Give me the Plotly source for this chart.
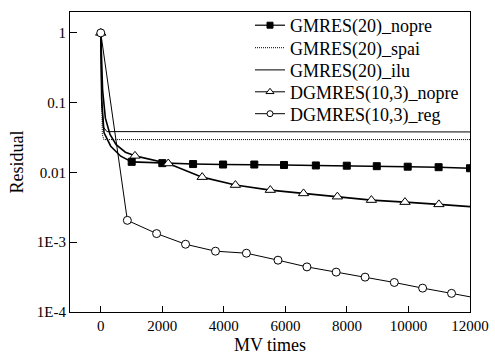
import plotly.graph_objects as go

# ---- data ----
# GMRES(20)_nopre
nopre_curve_x = [0, 30, 107, 324, 648, 1005]
nopre_curve_y = [1, 0.11, 0.037, 0.0238, 0.0171, 0.0142]
nopre_mark_x = [1005, 2000, 3000, 3975, 4990, 5955, 6990, 7995, 8970, 9975, 10980, 12000]
nopre_mark_y = [0.0142, 0.0136, 0.0132, 0.0130, 0.0130, 0.0128, 0.0126, 0.0125, 0.0123, 0.0121, 0.0119, 0.0115]

# GMRES(20)_spai
spai_x = [0, 20, 50, 100, 12000]
spai_y = [1, 0.08, 0.035, 0.0296, 0.0296]

# GMRES(20)_ilu
ilu_x = [0, 30, 80, 200, 12000]
ilu_y = [1, 0.1, 0.045, 0.0385, 0.0381]

# DGMRES(10,3)_nopre
dnopre_curve_x = [0, 60, 150, 300, 500, 800, 1112]
dnopre_curve_y = [1, 0.15, 0.06, 0.035, 0.025, 0.0195, 0.0173]
dnopre_mark_x = [1112, 2194, 3296, 4376, 5510, 6590, 7690, 8795, 9887, 10989]
dnopre_mark_y = [0.0173, 0.01345, 0.00857, 0.0066, 0.00559, 0.00501, 0.0045, 0.00402, 0.00376, 0.00349]
dnopre_end_x = [10989, 12000]
dnopre_end_y = [0.00349, 0.00324]
dnopre_start_x = [0]
dnopre_start_y = [1]

# DGMRES(10,3)_reg
reg_mark_x = [0, 864, 1815, 2755, 3728, 4733, 5760, 6700, 7650, 8590, 9540, 10460, 11400]
reg_mark_y = [1, 0.00206, 0.00133, 0.000936, 0.000744, 0.000696, 0.000553, 0.000443,
              0.000373, 0.000316, 0.000265, 0.000220, 0.000185]
reg_end_x = [11400, 12000]
reg_end_y = [0.000185, 0.000165]

x_ticks = [0, 2000, 4000, 6000, 8000, 10000, 12000]
x_ticktext = ["0", "2000", "4000", "6000", "8000", "10000", "12000"]
y_tickvals = [1, 0.1, 0.01, 0.001, 0.0001]
y_ticktext = ["1", "0.1", "0.01", "1E-3", "1E-4"]

names = ["GMRES(20)_nopre", "GMRES(20)_spai", "GMRES(20)_ilu",
         "DGMRES(10,3)_nopre", "DGMRES(10,3)_reg"]

FONT = "Liberation Serif"
BLK = "black"
DOT = "1px,1px"

fig = go.Figure()

def line(x, y, width=1, dash="solid"):
    fig.add_trace(go.Scatter(x=x, y=y, mode="lines", showlegend=False,
                             line=dict(color=BLK, width=width, dash=dash),
                             hoverinfo="skip"))

def marks(x, y, symbol, size, fill):
    fig.add_trace(go.Scatter(x=x, y=y, mode="markers", showlegend=False,
                             marker=dict(symbol=symbol, size=size, color=fill,
                                         line=dict(color=BLK, width=1)),
                             hoverinfo="skip"))

def legend_item(name, legend_id, width=1, dash="solid", symbol=None, size=6, fill=BLK):
    mode = "lines+markers" if symbol else "lines"
    kw = {}
    if symbol:
        kw["marker"] = dict(symbol=symbol, size=size, color=fill, line=dict(color=BLK, width=1))
    fig.add_trace(go.Scatter(x=[None], y=[None], mode=mode, name=name, legend=legend_id,
                             line=dict(color=BLK, width=width, dash=dash), **kw))

# lines
line(spai_x, spai_y, 1, DOT)
line(ilu_x, ilu_y, 1)
line(reg_mark_x, reg_mark_y, 1)
line(reg_end_x, reg_end_y, 1)
line(dnopre_curve_x, dnopre_curve_y, 1.6)
line(dnopre_mark_x, dnopre_mark_y, 1.6)
line(dnopre_end_x, dnopre_end_y, 1.6)
line(nopre_curve_x, nopre_curve_y, 1.6)
line(nopre_mark_x, nopre_mark_y, 1.6)

# markers
marks(nopre_mark_x, nopre_mark_y, "square", 7, BLK)
marks(dnopre_start_x + dnopre_mark_x, dnopre_start_y + dnopre_mark_y, "triangle-up", 9, "white")
marks(reg_mark_x, reg_mark_y, "circle", 8, "white")

# legend entries (one legend per row for exact spacing)
legend_item(names[0], "legend", 1.2, "solid", "square", 6, BLK)
legend_item(names[1], "legend2", 1, DOT)
legend_item(names[2], "legend3", 1, "solid")
legend_item(names[3], "legend4", 1, "solid", "triangle-up", 7, "white")
legend_item(names[4], "legend5", 1, "solid", "circle", 6, "white")

row_y = [0.955, 0.88, 0.806, 0.733, 0.66]
leg_common = dict(x=0.45, xanchor="left", yanchor="middle",
                  bgcolor="rgba(0,0,0,0)", borderwidth=0,
                  font=dict(family=FONT, size=18, color=BLK), itemwidth=30)

fig.update_layout(
    width=495, height=355,
    margin=dict(l=70, r=25, t=12, b=43, autoexpand=False),
    paper_bgcolor="white", plot_bgcolor="white",
    font=dict(family=FONT, color=BLK, size=15),
    showlegend=True,
    legend=dict(y=row_y[0], **leg_common),
    legend2=dict(y=row_y[1], **leg_common),
    legend3=dict(y=row_y[2], **leg_common),
    legend4=dict(y=row_y[3], **leg_common),
    legend5=dict(y=row_y[4], **leg_common),
    xaxis=dict(range=[-1000, 12000], tickvals=x_ticks, ticktext=x_ticktext,
               ticks="inside", ticklen=6, tickcolor=BLK, ticklabelstandoff=0,
               showline=True, linecolor=BLK, linewidth=1, mirror=True,
               showgrid=False, zeroline=False, automargin=False,
               tickfont=dict(family=FONT, size=15),
               title=dict(text="MV times", font=dict(family=FONT, size=18), standoff=10)),
    yaxis=dict(type="log", range=[-4, 0.3], tickvals=y_tickvals, ticktext=y_ticktext,
               ticks="inside", ticklen=7, tickcolor=BLK,
               showline=True, linecolor=BLK, linewidth=1, mirror=True,
               showgrid=False, zeroline=False, automargin=False,
               tickfont=dict(family=FONT, size=15),
               title=dict(text="Residual", font=dict(family=FONT, size=18), standoff=8)),
)

fig.write_html("out.html")
